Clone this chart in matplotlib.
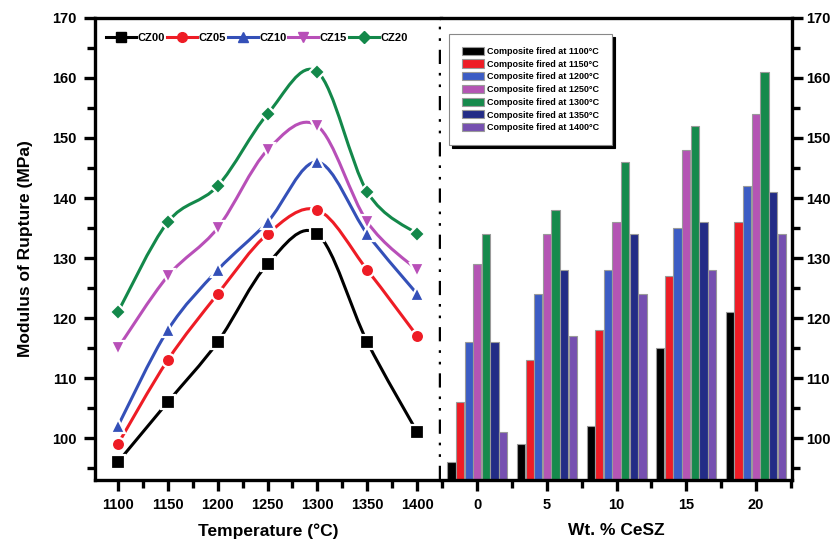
import matplotlib
matplotlib.use("Agg")
import matplotlib.pyplot as plt
import numpy as np
from matplotlib.path import Path
from matplotlib.patches import PathPatch
from matplotlib.lines import Line2D
from matplotlib.ticker import MultipleLocator

plt.rcParams['font.family'] = ['Liberation Sans', 'DejaVu Sans']
plt.rcParams['font.weight'] = 'bold'

temps = [1100, 1150, 1200, 1250, 1300, 1350, 1400]
wt = [0, 5, 10, 15, 20]
series = ["CZ00", "CZ05", "CZ10", "CZ15", "CZ20"]
mor = {
    "CZ00": [96, 106, 116, 129, 134, 116, 101],
    "CZ05": [99, 113, 124, 134, 138, 128, 117],
    "CZ10": [102, 118, 128, 136, 146, 134, 124],
    "CZ15": [115, 127, 135, 148, 152, 136, 128],
    "CZ20": [121, 136, 142, 154, 161, 141, 134],
}
line_colors = ["#000000", "#ee1c25", "#3450b8", "#b84fb8", "#13884a"]
markers = ["s", "o", "^", "v", "D"]
bar_colors = ["#000000", "#ee1c25", "#3c5cc4", "#b455b4", "#168a4c", "#232c86", "#7650b0"]

fig = plt.figure(figsize=(8.37, 5.48), dpi=100)
axl = fig.add_axes([0.1135, 0.124, 0.4135, 0.8432])
axr = fig.add_axes([0.527, 0.124, 0.4192, 0.8432])


def smooth_path(xs, ys):
    pts = np.column_stack([xs, ys]).astype(float)
    verts = [pts[0]]
    codes = [Path.MOVETO]
    n = len(pts)
    for i in range(n - 1):
        p0 = pts[max(i - 1, 0)]
        p1 = pts[i]
        p2 = pts[i + 1]
        p3 = pts[min(i + 2, n - 1)]
        verts += [p1 + (p2 - p0) / 6, p2 - (p3 - p1) / 6, p2]
        codes += [Path.CURVE4] * 3
    return Path(verts, codes)


handles = []
for name, c, m in zip(series, line_colors, markers):
    axl.add_patch(PathPatch(smooth_path(temps, mor[name]), fill=False,
                            edgecolor=c, lw=2.2, zorder=2))
    ms = 9.5 if m != "D" else 8.5
    axl.plot(temps, mor[name], ls="none", marker=m, ms=ms, color=c,
             mec="white", mew=1.6, zorder=3)
    handles.append(Line2D([], [], color=c, lw=2.2, marker=m, ms=ms - 2.5))

axl.legend(handles, series, ncol=5, loc="upper left", frameon=False,
           bbox_to_anchor=(0.01, 0.985), fontsize=8, handlelength=2.7,
           handletextpad=0.15, columnspacing=0.15, borderaxespad=0.3)

axl.set_xlim(1077, 1424)
axl.set_ylim(93, 170)
axl.xaxis.set_major_locator(MultipleLocator(50))
axl.xaxis.set_minor_locator(MultipleLocator(25))
axl.yaxis.set_major_locator(MultipleLocator(10))
axl.yaxis.set_minor_locator(MultipleLocator(5))
axl.set_xlabel("Temperature (\u00b0C)", fontsize=12.5, fontweight="bold", labelpad=8)
axl.set_ylabel("Modulus of Rupture (MPa)", fontsize=12.5, fontweight="bold", labelpad=14)
axl.spines["right"].set_visible(False)
axl.axvline(1424, color="black", lw=3.2, dashes=(3.2, 2.0, 0.6, 2.0, 0.6, 2.0),
            clip_on=False, zorder=5)

# bars
w = 0.62
x = np.array(wt, dtype=float)
for j, (t, c) in enumerate(zip(temps, bar_colors)):
    vals = [mor[s][j] for s in series]
    axr.bar(x + (j - 3) * w, np.array(vals) - 93, bottom=93, width=w * 0.95,
            color=c, edgecolor="#9a9a9a", lw=0.8,
            label="Composite fired at %d\u00b0C" % t)

axr.set_xlim(-2.6, 22.6)
axr.set_ylim(93, 170)
axr.xaxis.set_major_locator(MultipleLocator(5))
axr.xaxis.set_minor_locator(MultipleLocator(2.5))
axr.yaxis.set_major_locator(MultipleLocator(10))
axr.yaxis.set_minor_locator(MultipleLocator(5))
axr.yaxis.tick_right()
axr.spines["left"].set_visible(False)
axr.set_xlabel("Wt. % CeSZ", fontsize=12.5, fontweight="bold", labelpad=8)
leg = axr.legend(loc="upper left", bbox_to_anchor=(0.01, 0.975), fontsize=6.5,
                 frameon=True, fancybox=False, shadow={"color": "black", "alpha": 1},
                 edgecolor="#888888", handlelength=2.5, handleheight=1.0,
                 labelspacing=0.4, borderpad=1.4, handletextpad=0.3)
leg.get_frame().set_linewidth(0.8)

for ax in (axl, axr):
    for s in ("top", "bottom", "left", "right"):
        ax.spines[s].set_linewidth(2.4)
    ax.tick_params(which="major", direction="out", length=8, width=2.4,
                   labelsize=10.5, pad=5)
    ax.tick_params(which="minor", direction="out", length=5.5, width=2.4)
axr.tick_params(axis="y", which="major", pad=2)

fig.savefig("out.png", dpi=100)
